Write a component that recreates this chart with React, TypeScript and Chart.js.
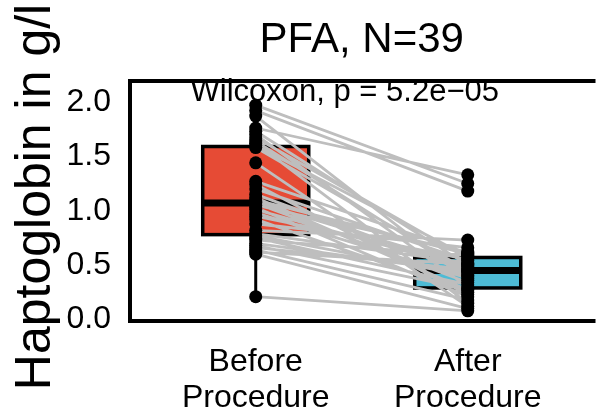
import React, { useEffect, useRef } from "react";
import { Chart, registerables } from "chart.js";

Chart.register(...registerables);

const groupPos = [1, 2];
const groupLabels = [["Before", "Procedure"], ["After", "Procedure"]];
const boxColors = ["#E64B35", "#4DBBD5"];
const yTicks = [0, 0.5, 1, 1.5, 2];
const titleText = "PFA, N=39";
const yTitleText = "Haptoglobin in g/l";
const testText = "Wilcoxon, p = 5.2e\u221205";

// paired values (same index = same patient)
const before = [
  1.97, 1.92, 1.87, 1.76, 1.73, 1.7, 1.67, 1.64, 1.62, 1.6, 1.58, 1.44, 1.27,
  1.24, 1.2, 1.15, 1.12, 1.1, 1.08, 1.07, 1.05, 1.03, 1.01, 0.98, 0.95, 0.92,
  0.88, 0.82, 0.79, 0.77, 0.75, 0.73, 0.7, 0.68, 0.66, 0.64, 0.62, 0.6, 0.21,
];
const after = [
  1.25, 1.18, 0.36, 1.33, 0.5, 0.3, 0.56, 0.41, 0.15, 0.58, 0.45, 0.12, 0.61,
  0.23, 0.54, 0.44, 0.27, 0.6, 0.49, 0.34, 0.62, 0.21, 0.47, 0.38, 0.55, 0.25,
  0.66, 0.73, 0.52, 0.4, 0.32, 0.59, 0.43, 0.28, 0.46, 0.18, 0.51, 0.1, 0.08,
];

const FONT = "'Liberation Sans', Arial, Helvetica, sans-serif";

function quantile(sorted: number[], p: number) {
  const h = (sorted.length - 1) * p;
  const lo = Math.floor(h);
  const hi = Math.ceil(h);
  return sorted[lo] + (sorted[hi] - sorted[lo]) * (h - lo);
}

function boxStats(vals: number[]) {
  const s = [...vals].sort((a, b) => a - b);
  const q1 = quantile(s, 0.25);
  const med = quantile(s, 0.5);
  const q3 = quantile(s, 0.75);
  const iqr = q3 - q1;
  const lo = Math.min(...s.filter((v) => v >= q1 - 1.5 * iqr));
  const hi = Math.max(...s.filter((v) => v <= q3 + 1.5 * iqr));
  return { q1, med, q3, lo, hi };
}

const boxPlugin = {
  id: "boxes",
  beforeDatasetsDraw(chart: any) {
    const { ctx, scales } = chart;
    const xs = scales.x;
    const ys = scales.y;
    [before, after].forEach((vals, i) => {
      const st = boxStats(vals);
      const cx = xs.getPixelForValue(groupPos[i]);
      const xl = xs.getPixelForValue(groupPos[i] - 0.25);
      const xr = xs.getPixelForValue(groupPos[i] + 0.25);
      ctx.save();
      ctx.strokeStyle = "#000";
      ctx.lineWidth = 3;
      ctx.beginPath();
      ctx.moveTo(cx, ys.getPixelForValue(st.lo));
      ctx.lineTo(cx, ys.getPixelForValue(st.q1));
      ctx.moveTo(cx, ys.getPixelForValue(st.q3));
      ctx.lineTo(cx, ys.getPixelForValue(st.hi));
      ctx.stroke();
      const yt = ys.getPixelForValue(st.q3);
      const yb = ys.getPixelForValue(st.q1);
      ctx.fillStyle = boxColors[i];
      ctx.fillRect(xl, yt, xr - xl, yb - yt);
      ctx.lineWidth = 3.5;
      ctx.strokeRect(xl, yt, xr - xl, yb - yt);
      ctx.lineWidth = 7;
      ctx.beginPath();
      const ym = ys.getPixelForValue(st.med);
      ctx.moveTo(xl, ym);
      ctx.lineTo(xr, ym);
      ctx.stroke();
      ctx.restore();
    });
  },
  afterDatasetsDraw(chart: any) {
    const { ctx, scales, chartArea } = chart;
    const xs = scales.x;
    const ys = scales.y;
    ctx.save();
    // test label
    ctx.fillStyle = "#000";
    ctx.font = `31px ${FONT}`;
    ctx.textAlign = "center";
    ctx.textBaseline = "alphabetic";
    ctx.fillText(testText, xs.getPixelForValue(1.42), ys.getPixelForValue(2.012));
    // frame
    ctx.strokeStyle = "#000";
    ctx.lineWidth = 4;
    ctx.beginPath();
    ctx.moveTo(chartArea.right + 5, chartArea.top);
    ctx.lineTo(chartArea.left, chartArea.top);
    ctx.lineTo(chartArea.left, chartArea.bottom);
    ctx.lineTo(chartArea.right + 5, chartArea.bottom);
    ctx.stroke();
    // title
    ctx.font = `42px ${FONT}`;
    ctx.textAlign = "center";
    ctx.textBaseline = "alphabetic";
    const panelCenter = (xs.getPixelForValue(0.4) + xs.getPixelForValue(2.6)) / 2;
    ctx.fillText(titleText, panelCenter, 52);
    // y title
    ctx.translate(50, 197);
    ctx.rotate(-Math.PI / 2);
    ctx.font = `50px ${FONT}`;
    ctx.textAlign = "center";
    ctx.textBaseline = "alphabetic";
    ctx.fillText(yTitleText, 0, 0);
    ctx.restore();
  },
};

export default function App() {
  const ref = useRef<HTMLCanvasElement>(null);
  useEffect(() => {
    if (!ref.current) return;
    const lineData: any[] = [];
    before.forEach((b, i) => {
      lineData.push({ x: groupPos[0], y: b });
      lineData.push({ x: groupPos[1], y: after[i] });
      lineData.push({ x: NaN, y: null });
    });
    const pointData: any[] = [
      ...before.map((v) => ({ x: groupPos[0], y: v })),
      ...after.map((v) => ({ x: groupPos[1], y: v })),
    ];
    const chart = new Chart(ref.current, {
      type: "scatter",
      data: {
        datasets: [
          {
            type: "scatter",
            data: pointData,
            backgroundColor: "#000",
            borderColor: "#000",
            pointRadius: 6.5,
            borderWidth: 0,
            order: 0,
          },
          {
            type: "line",
            data: lineData,
            borderColor: "#BEBEBE",
            borderWidth: 2.8,
            pointRadius: 0,
            showLine: true,
            spanGaps: false,
            fill: false,
            order: 1,
          } as any,
        ],
      },
      options: {
        responsive: false,
        animation: false,
        events: [],
        layout: { padding: { top: 81, right: 0, left: 0, bottom: 0 } },
        plugins: {
          legend: { display: false },
          tooltip: { enabled: false },
          title: { display: false },
        },
        scales: {
          x: {
            type: "linear",
            min: 0.407,
            max: 2.579,
            grid: { display: false, drawTicks: false },
            border: { display: false },
            afterBuildTicks: (s: any) => {
              s.ticks = groupPos.map((v) => ({ value: v }));
            },
            afterFit: (s: any) => {
              s.height = 95;
            },
            ticks: {
              autoSkip: false,
              maxRotation: 0,
              padding: 24,
              color: "#000",
              font: { size: 32, family: FONT, lineHeight: 1.1 },
              callback: (v: any) => {
                const i = groupPos.indexOf(Number(v));
                return i >= 0 ? groupLabels[i] : "";
              },
            },
          },
          y: {
            type: "linear",
            min: -0.0138,
            max: 2.192,
            grid: { display: false, drawTicks: false },
            border: { display: false },
            afterBuildTicks: (s: any) => {
              s.ticks = yTicks.map((v) => ({ value: v }));
            },
            afterFit: (s: any) => {
              s.width = 130;
            },
            ticks: {
              padding: 19,
              color: "#000",
              font: { size: 32, family: FONT },
              callback: (v: any) => Number(v).toFixed(1),
            },
          },
        },
      },
      plugins: [boxPlugin],
    });
    return () => chart.destroy();
  }, []);
  return (
    <div style={{ position: "absolute", left: 0, top: 0, width: 597, height: 416, background: "#fff" }}>
      <canvas ref={ref} width={597} height={416} style={{ display: "block" }} />
    </div>
  );
}
